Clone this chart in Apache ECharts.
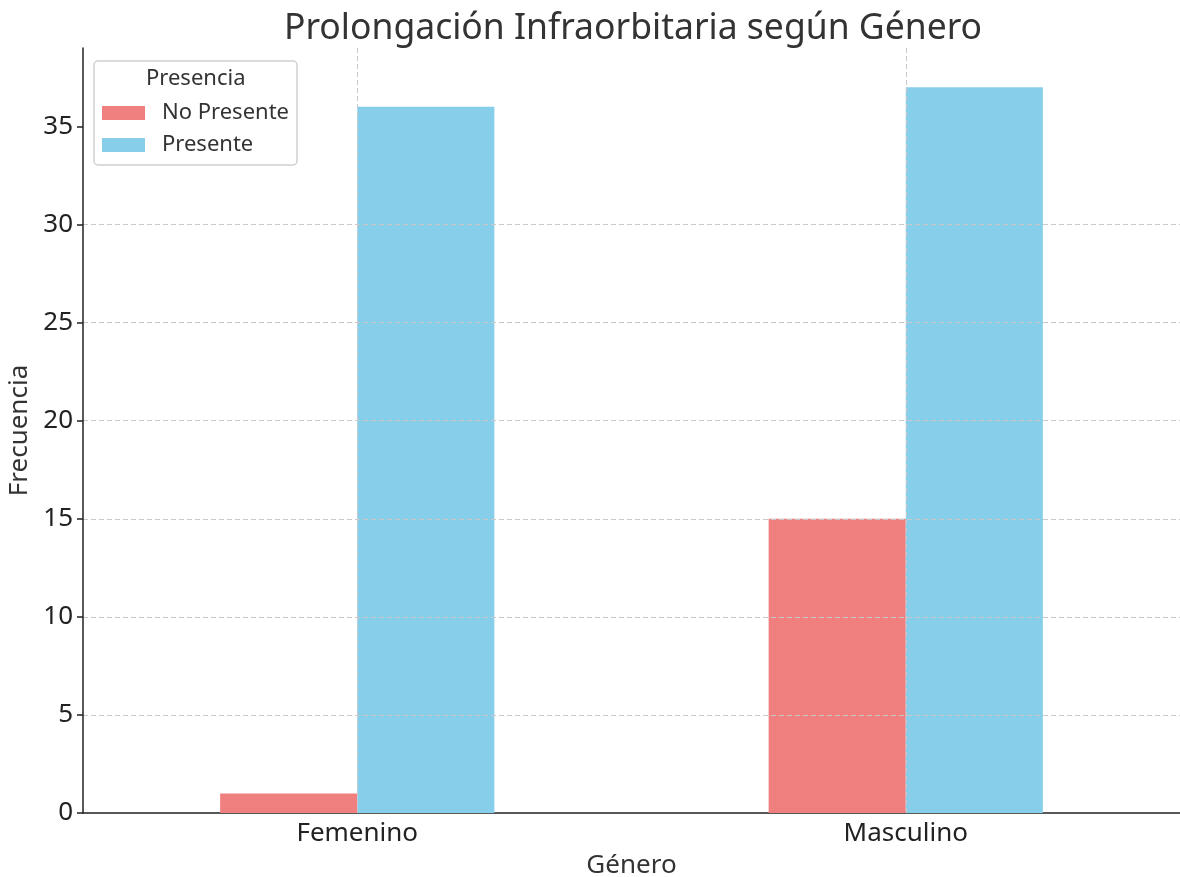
<!DOCTYPE html>
<html><head><meta charset="utf-8">
<script src="https://cdn.jsdelivr.net/npm/echarts@6/dist/echarts.min.js"></script>
<style>html,body{margin:0;padding:0;background:#fff}#c{width:1180px;height:877px}</style>
</head><body><div id="c"></div>
<script>
const categories = ['Femenino', 'Masculino'];
const seriesNames = ['No Presente', 'Presente'];
const noPresente = [1, 15];
const presente = [36, 37];
const yTicks = [0, 5, 10, 15, 20, 25, 30, 35];
const catPositions = [0, 1];

const font = 'Noto Sans';
const chart = echarts.init(document.getElementById('c'));
chart.setOption({
  animation: false,
  backgroundColor: '#fff',
  title: {
    text: 'Prolongación Infraorbitaria según Género',
    left: 628, top: 6, textAlign: 'center',
    textStyle: { fontFamily: font, fontSize: 35.5, fontWeight: 'normal', color: '#333' }
  },
  grid: { left: 83, right: 0, top: 48, bottom: 64, outerBoundsMode: 'none', containLabel: false },
  legend: {
    orient: 'vertical', left: 94, top: 61,
    padding: [40, 8, 8, 8],
    itemWidth: 43, itemHeight: 14, itemGap: 8,
    backgroundColor: '#fff', borderColor: '#d0d0d0', borderWidth: 1.5, borderRadius: 4,
    icon: 'rect',
    textStyle: { fontFamily: font, fontSize: 22, color: '#333', padding: [0, 0, 0, 12], lineHeight: 24 },
    data: seriesNames
  },
  graphic: [{
    type: 'text', left: 146, top: 68, z: 100,
    style: { text: 'Presencia', font: '22px "Noto Sans"', fill: '#333' }
  }],
  xAxis: [{
    type: 'category', data: categories,
    name: 'Género', nameLocation: 'middle', nameGap: 40,
    nameTextStyle: { fontFamily: font, fontSize: 26, color: '#333' },
    axisLine: { lineStyle: { color: '#222', width: 1.5 } },
    axisTick: { alignWithLabel: true, length: 6, lineStyle: { color: '#222', width: 1.5 } },
    axisLabel: { fontFamily: font, fontSize: 26, color: '#222', margin: 8 },
    splitLine: { show: false }
  }, {
    type: 'value', min: -0.5, max: 1.5, show: false
  }],
  yAxis: {
    type: 'value', min: 0, max: 39, z: 10,
    name: 'Frecuencia', nameLocation: 'middle', nameGap: 45,
    nameTextStyle: { fontFamily: font, fontSize: 26, color: '#333' },
    axisLine: { show: true, onZero: false, lineStyle: { color: '#222', width: 1.5 } },
    axisTick: { show: true, length: 6, customValues: yTicks, lineStyle: { color: '#222', width: 1.5 } },
    axisLabel: { fontFamily: font, fontSize: 26, color: '#222', margin: 10, customValues: yTicks },
    splitLine: { show: true, showMinLine: false, showMaxLine: false, lineStyle: { color: '#c8c8c8', type: [5, 3], width: 1 } },
    interval: 1
  },
  series: [
    {
      name: seriesNames[0], type: 'bar', data: noPresente,
      barGap: '0%', barCategoryGap: '50%',
      itemStyle: { color: '#F08080' }
    },
    {
      name: seriesNames[1], type: 'bar', data: presente,
      itemStyle: { color: '#87CEEB' }
    },
    {
      type: 'line', xAxisIndex: 1, data: [], silent: true,
      markLine: {
        silent: true, symbol: 'none', z: 10,
        label: { show: false },
        lineStyle: { color: '#c8c8c8', type: [5, 3], width: 1 },
        data: catPositions.map(v => ({ xAxis: v }))
      }
    }
  ]
});
</script></body></html>
